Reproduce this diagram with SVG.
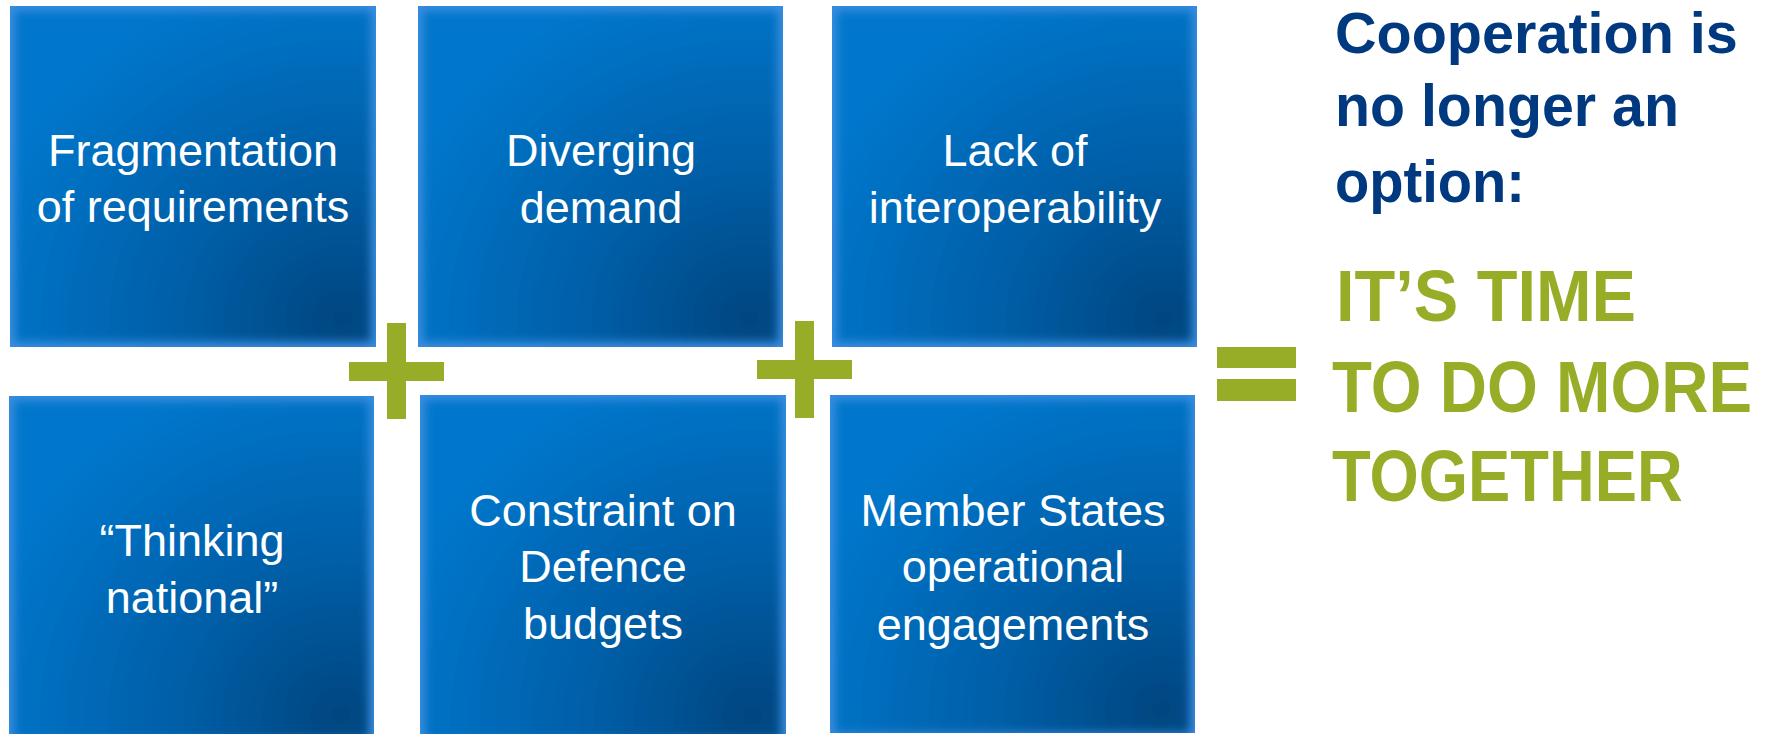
<svg xmlns="http://www.w3.org/2000/svg" width="1773" height="734" viewBox="0 0 1773 734">
<style>
.lbl{font-family:"Liberation Sans",Arial,sans-serif;font-size:45px;fill:#ffffff;text-anchor:middle}
.navy{font-family:"Liberation Sans",Arial,sans-serif;font-weight:bold;font-size:60px;fill:#00397f}
.grn{font-family:"Liberation Sans",Arial,sans-serif;font-weight:bold;font-size:73px;fill:#97ad27}
.edge{fill:#3a8ddf}
.core{fill:url(#bg);filter:url(#soft)}
.sym{fill:#97ad27}
</style>
<defs>
<radialGradient id="bg" cx="0.92" cy="0.93" r="1.05" fx="0.92" fy="0.93">
<stop offset="0" stop-color="#004680"/>
<stop offset="0.45" stop-color="#005fa8"/>
<stop offset="1" stop-color="#0077cc"/>
</radialGradient>
<filter id="soft" x="-10%" y="-10%" width="120%" height="120%"><feGaussianBlur stdDeviation="5"/></filter>
<clipPath id="box" clipPathUnits="objectBoundingBox"><rect x="0" y="0" width="1" height="1"/></clipPath>
</defs>
<rect width="1773" height="734" fill="#ffffff"/>

<g id="node-fragmentation">
<g clip-path="url(#box)"><rect class="edge" x="10" y="6" width="366" height="341"/><rect class="core" x="15" y="11" width="356" height="331"/></g>
<text class="lbl" x="193" y="166">Fragmentation</text>
<text class="lbl" x="193" y="222">of requirements</text>
</g>

<g id="node-diverging">
<g clip-path="url(#box)"><rect class="edge" x="418" y="6" width="365" height="341"/><rect class="core" x="423" y="11" width="355" height="331"/></g>
<text class="lbl" x="601" y="166">Diverging</text>
<text class="lbl" x="601" y="223">demand</text>
</g>

<g id="node-interoperability">
<g clip-path="url(#box)"><rect class="edge" x="832" y="6" width="365" height="341"/><rect class="core" x="837" y="11" width="355" height="331"/></g>
<text class="lbl" x="1015" y="166">Lack of</text>
<text class="lbl" x="1015" y="223">interoperability</text>
</g>

<g id="node-thinking">
<g clip-path="url(#box)"><rect class="edge" x="9" y="396" width="365" height="338"/><rect class="core" x="14" y="401" width="355" height="338"/></g>
<text class="lbl" x="192" y="556">“Thinking</text>
<text class="lbl" x="192" y="613">national”</text>
</g>

<g id="node-constraint">
<g clip-path="url(#box)"><rect class="edge" x="420" y="395" width="366" height="339"/><rect class="core" x="425" y="400" width="356" height="339"/></g>
<text class="lbl" x="603" y="526">Constraint on</text>
<text class="lbl" x="603" y="582">Defence</text>
<text class="lbl" x="603" y="639">budgets</text>
</g>

<g id="node-member-states">
<g clip-path="url(#box)"><rect class="edge" x="830" y="395" width="365" height="338"/><rect class="core" x="835" y="400" width="355" height="333"/></g>
<text class="lbl" x="1013" y="526">Member States</text>
<text class="lbl" x="1013" y="582">operational</text>
<text class="lbl" x="1013" y="640">engagements</text>
</g>

<g id="connectors">
<rect class="sym" x="387" y="323" width="19" height="96"/>
<rect class="sym" x="349" y="362" width="95" height="19"/>
<rect class="sym" x="795" y="321" width="19" height="97"/>
<rect class="sym" x="757" y="360" width="95" height="19"/>
<rect class="sym" x="1217" y="347" width="79" height="21"/>
<rect class="sym" x="1217" y="379" width="79" height="22"/>
</g>

<g id="node-conclusion">
<text class="navy" style="font-size:58px" transform="translate(1335,53) scale(0.95,1)" textLength="424" lengthAdjust="spacingAndGlyphs">Cooperation is</text>
<text class="navy" transform="translate(1335,126) scale(0.95,1)" textLength="362" lengthAdjust="spacingAndGlyphs">no longer an</text>
<text class="navy" transform="translate(1335,202) scale(0.95,1)" textLength="200" lengthAdjust="spacingAndGlyphs">option:</text>
<text class="grn" transform="translate(1336,321) scale(0.89,1)" textLength="337" lengthAdjust="spacingAndGlyphs">IT’S TIME</text>
<text class="grn" transform="translate(1332,412) scale(0.89,1)" textLength="472" lengthAdjust="spacingAndGlyphs">TO DO MORE</text>
<text class="grn" transform="translate(1332,501) scale(0.89,1)" textLength="394" lengthAdjust="spacingAndGlyphs">TOGETHER</text>
</g>
</svg>
